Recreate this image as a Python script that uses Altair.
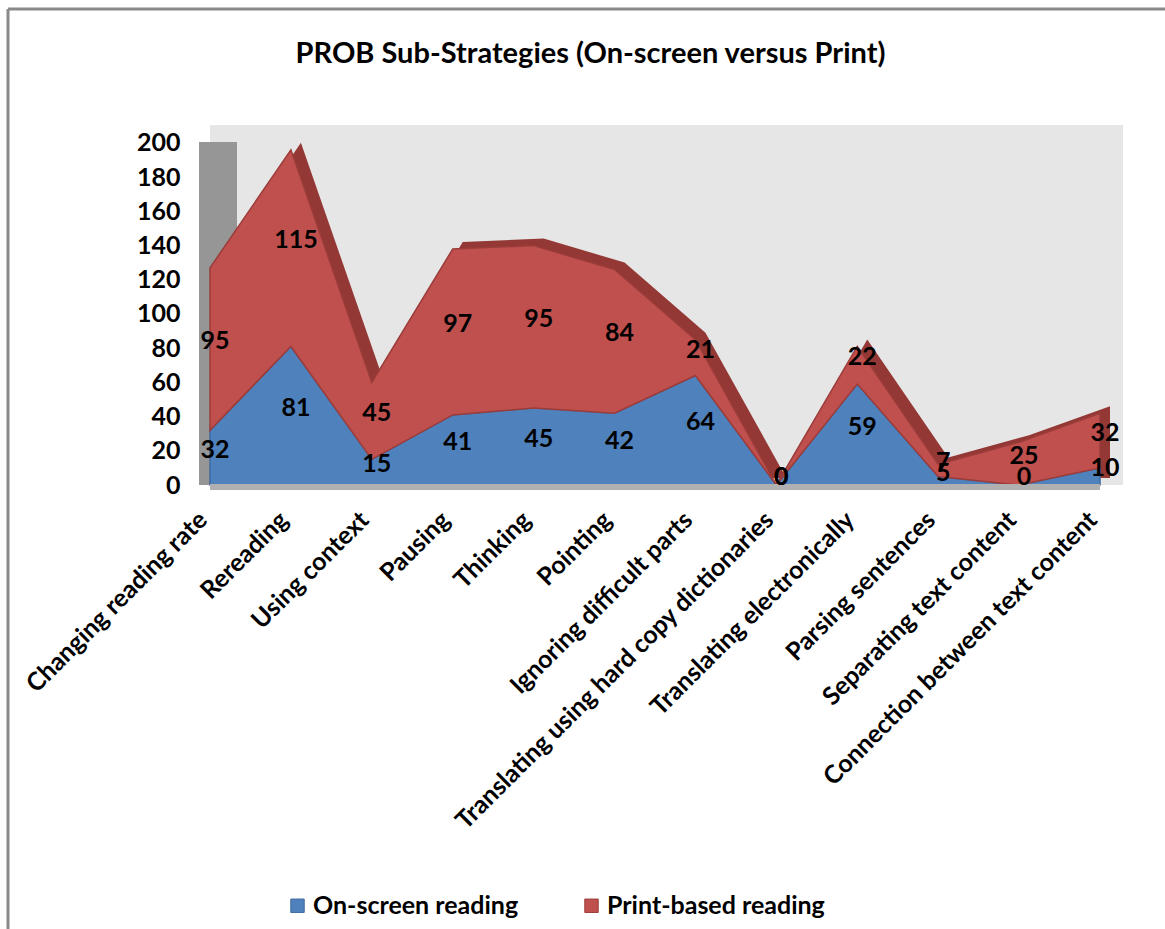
import json
import altair as alt
import pandas as pd

categories = [
    "Changing reading rate", "Rereading", "Using context", "Pausing", "Thinking",
    "Pointing", "Ignoring difficult parts", "Translating using hard copy dictionaries",
    "Translating electronically", "Parsing sentences", "Separating text content",
    "Connection between text content",
]
series = ["On-screen reading", "Print-based reading"]
onscreen = [32, 81, 15, 41, 45, 42, 64, 0, 59, 5, 0, 10]
print_based = [95, 115, 45, 97, 95, 84, 21, 0, 22, 7, 25, 32]
y_ticks = [0, 20, 40, 60, 80, 100, 120, 140, 160, 180, 200]

colors = ["#4f81bd", "#c0504d"]
edge_colors = ["#3f6aa0", "#9b3c3a"]
FONT = "Lato"
FS = 25

rows = []
for i, c in enumerate(categories):
    base = 0
    for k, (s, vals) in enumerate(zip(series, [onscreen, print_based])):
        v = vals[i]
        rows.append({"idx": i, "category": c, "series": s, "value": v, "order": k,
                     "mid": base + v / 2})
        base += v
df = pd.DataFrame(rows)
tot = pd.DataFrame({"idx": list(range(len(categories))),
                    "total": [a + b for a, b in zip(onscreen, print_based)]})
floor = pd.DataFrame({"x1": [0], "x2": [len(categories) - 1], "y": [0]})

n = len(categories)
xscale = alt.Scale(domain=[0, (n - 1) * 913 / 890], nice=False, zero=False)
yscale = alt.Scale(domain=[0, 210.5], nice=False)

label_expr = json.dumps(categories) + "[datum.value]"
x_axis = alt.Axis(values=list(range(n)), labelExpr=label_expr, labelAngle=-45,
                  labelFontSize=FS, labelFont=FONT, labelFontWeight="bold",
                  labelColor="black", labelPadding=22, labelOffset=-16, ticks=False,
                  domain=False, grid=False, title=None, labelLimit=600,
                  labelOverlap=False, labelBound=False, labelFlush=False)
y_axis = alt.Axis(values=y_ticks, labelFontSize=FS, labelFont=FONT, labelFontWeight="bold",
                  labelColor="black", labelPadding=30, ticks=False, domain=False,
                  grid=False, title=None, labelOverlap=False, labelBound=False,
                  labelFlush=False)

X = alt.X("idx:Q", scale=xscale, axis=x_axis)

frame_top = alt.Chart(floor).mark_rule(color="#8a8a8a", strokeWidth=3).encode(
    x=alt.value(-202), x2=alt.value(960), y=alt.value(-116)
)
frame_left = alt.Chart(floor).mark_rule(color="#8a8a8a", strokeWidth=3).encode(
    x=alt.value(-202), y=alt.value(-116), y2=alt.value(810)
)

wall = alt.Chart(floor).mark_rect(color="#969696").encode(
    x=alt.value(-11), x2=alt.value(27), y=alt.value(17), y2=alt.value(360)
)

depth = alt.Chart(tot).mark_area(color="#933835", xOffset=10, yOffset=-7, y2Offset=-7).encode(
    x=X,
    y=alt.Y("total:Q", scale=yscale, axis=y_axis),
    y2=alt.datum(0),
)

areas = alt.Chart(df).mark_area(strokeWidth=1.5, opacity=1).encode(
    x=X,
    y=alt.Y("value:Q", stack="zero", scale=yscale, axis=y_axis),
    color=alt.Color("series:N", scale=alt.Scale(domain=series, range=colors),
                    legend=alt.Legend(orient="none", legendX=75, legendY=768,
                                      direction="horizontal", title=None,
                                      symbolType="square", symbolSize=180,
                                      symbolStrokeWidth=1, labelFontSize=FS,
                                      labelFont=FONT, labelFontWeight="bold",
                                      labelColor="black", columnPadding=60,
                                      labelOffset=3, labelLimit=400)),
    stroke=alt.Stroke("series:N", scale=alt.Scale(domain=series, range=edge_colors),
                      legend=None),
    order=alt.Order("order:Q"),
)

floor_rule = alt.Chart(floor).mark_rule(color="#b0b0b0", strokeWidth=6, yOffset=2).encode(
    x=X,
    x2="x2:Q",
    y=alt.Y("y:Q", scale=yscale, axis=y_axis),
).transform_calculate(idx="datum.x1")

labels = alt.Chart(df).mark_text(fontSize=FS, font=FONT, fontWeight="bold", color="black",
                                 dy=-8, dx=5).encode(
    x=X,
    y=alt.Y("mid:Q", scale=yscale, axis=y_axis),
    text=alt.Text("value:Q"),
)

chart = alt.layer(frame_top, frame_left, wall, depth, areas, floor_rule, labels).properties(
    width=913, height=360,
    autosize=alt.AutoSizeParams(type="none"),
    padding={"left": 210, "top": 125, "right": 42, "bottom": 444},
    background="white",
    title=alt.TitleParams("PROB Sub-Strategies (On-screen versus Print)", fontSize=29,
                          font=FONT, fontWeight="bold", color="black", anchor="middle",
                          frame="group", dx=-76, offset=-61),
).configure_view(fill="#e6e6e6", stroke=None, clip=False)

chart.save("out.html", embed_options={"renderer": "svg", "actions": False})
